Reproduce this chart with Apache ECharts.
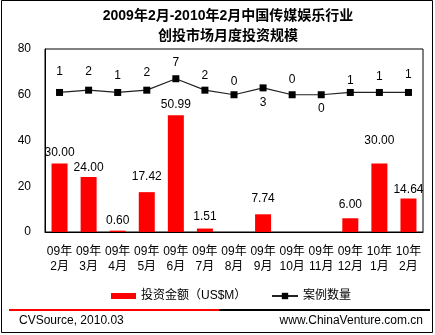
<!DOCTYPE html>
<html><head><meta charset="utf-8">
<script src="https://cdn.jsdelivr.net/npm/echarts@6/dist/echarts.min.js"></script>
<style>html,body{margin:0;padding:0;background:#fff}#c{width:435px;height:335px}</style>
</head><body><div id="c"></div>
<script>
// ---- data ----
const months = ['09年\n2月','09年\n3月','09年\n4月','09年\n5月','09年\n6月','09年\n7月','09年\n8月','09年\n9月','09年\n10月','09年\n11月','09年\n12月','10年\n1月','10年\n2月'];
const amounts = [30.00, 24.00, 0.60, 17.42, 50.99, 1.51, 0, 7.74, 0, 0, 6.00, 30.00, 14.64];
const counts = [1, 2, 1, 2, 7, 2, 0, 3, 0, 0, 1, 1, 1];
const yTicks = [0, 20, 40, 60, 80];
const titleLines = ['2009年2月-2010年2月中国传媒娱乐行业', '创投市场月度投资规模'];
const seriesNames = ['投资金额（US$M）', '案例数量'];
const footerLeft = 'CVSource, 2010.03';
const footerRight = 'www.ChinaVenture.com.cn';

// ---- label layout (style only) ----
const barLabelDy = [0, 1.6, 1.5, -4, 0, -1, 0, -4.7, 0, 0, -2.3, -12, 2];
const countLabelDy = [-20.7, -18, -17, -17.3, -16, -14.3, -12.6, 15, -15.3, 14, -12, -16, -17.7];

const NUM = '"Liberation Sans", Arial, "Noto Sans CJK SC", sans-serif';
const CJK = '"Liberation Sans", "Noto Sans CJK SC", sans-serif';

const chart = echarts.init(document.getElementById('c'), null, {renderer: 'canvas'});
chart.setOption({
  animation: false,
  backgroundColor: '#fff',
  grid: {left: 45, right: 12, top: 49, bottom: 103, show: true, borderColor: '#000', borderWidth: 1, backgroundColor: 'transparent'},
  xAxis: {
    type: 'category', data: months,
    axisTick: {show: false},
    axisLine: {lineStyle: {color: '#000', width: 1}},
    axisLabel: {color: '#000', fontSize: 12, fontFamily: CJK, lineHeight: 15, margin: 12, interval: 0}
  },
  yAxis: [{
    type: 'value', min: yTicks[0], max: yTicks[yTicks.length - 1], interval: yTicks[1] - yTicks[0],
    splitLine: {show: false}, axisTick: {show: false},
    axisLine: {show: true, lineStyle: {color: '#000'}},
    axisLabel: {color: '#000', fontSize: 12, fontFamily: NUM, margin: 14}
  }, {
    type: 'value', min: -60, max: 20, show: false, splitLine: {show: false}
  }],
  legend: [{
    left: 106, top: 285, itemWidth: 25, itemHeight: 6, data: [{name: seriesNames[0], icon: 'rect'}],
    textStyle: {color: '#000', fontSize: 12, fontFamily: CJK}
  }, {
    left: 266, top: 285, itemWidth: 26, itemHeight: 8, data: [seriesNames[1]],
    textStyle: {color: '#000', fontSize: 12, fontFamily: CJK}
  }],
  series: [{
    name: seriesNames[0], type: 'bar', barWidth: 16,
    itemStyle: {color: '#ff0000'},
    data: amounts.map((v, i) => ({
      value: v,
      label: {show: v > 0, position: 'top', distance: 5, offset: [0, barLabelDy[i]]}
    })),
    label: {color: '#000', fontSize: 12, fontFamily: NUM, formatter: p => p.value.toFixed(2)}
  }, {
    name: seriesNames[1], type: 'line', yAxisIndex: 1,
    symbol: 'rect', symbolSize: 7,
    lineStyle: {color: '#222', width: 1.2},
    itemStyle: {color: '#000'},
    data: counts.map((v, i) => ({
      value: v,
      label: {show: true, position: 'inside', offset: [0, countLabelDy[i]]}
    })),
    label: {color: '#000', fontSize: 12, fontFamily: NUM}
  }],
  graphic: [
    {type: 'rect', shape: {x: 1.5, y: 0.5, width: 431, height: 332}, style: {fill: 'none', stroke: '#000', lineWidth: 1}, silent: true},
    {type: 'text', x: 228, y: 16, style: {text: titleLines[0], font: 'bold 14px ' + CJK, fill: '#000', textAlign: 'center', textVerticalAlign: 'middle'}},
    {type: 'text', x: 228, y: 36, style: {text: titleLines[1], font: 'bold 14px ' + CJK, fill: '#000', textAlign: 'center', textVerticalAlign: 'middle'}},
    {type: 'line', shape: {x1: 9, y1: 310, x2: 219, y2: 310}, style: {stroke: '#ff0000', lineWidth: 2}},
    {type: 'line', shape: {x1: 219, y1: 310, x2: 430, y2: 310}, style: {stroke: '#000', lineWidth: 2}},
    {type: 'text', x: 19, y: 321, style: {text: footerLeft, font: '12px ' + NUM, fill: '#000', textAlign: 'left', textVerticalAlign: 'middle'}},
    {type: 'text', x: 423, y: 321, style: {text: footerRight, font: '12px ' + NUM, fill: '#000', textAlign: 'right', textVerticalAlign: 'middle'}}
  ]
});
</script></body></html>
